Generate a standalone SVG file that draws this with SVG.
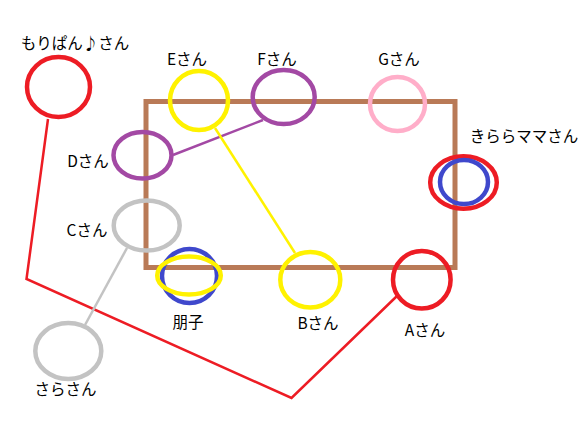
<svg xmlns="http://www.w3.org/2000/svg" width="588" height="421" viewBox="0 0 588 421">
<style>
.lbl{font-family:"Noto Sans CJK JP","Liberation Sans",sans-serif;font-size:15.5px;fill:#000;text-anchor:middle}
.ring{fill:none;stroke-width:4.5}
.red{stroke:#ed1c24}.yel{stroke:#fff200}.pur{stroke:#a349a4}.pink{stroke:#ffaec9}.gray{stroke:#c3c3c3}.blue{stroke:#3f48cc}
</style>
<rect x="0" y="0" width="588" height="421" fill="#fff"/>
<g id="frame"><rect x="146" y="101.5" width="309" height="166" fill="none" stroke="#b97a57" stroke-width="5"/></g>
<g id="connectors" fill="none">
<polyline points="48,119 26.5,279 291.5,398 397,296" stroke="#ed1c24" stroke-width="2.5"/>
<line x1="173" y1="155" x2="263" y2="120" stroke="#a349a4" stroke-width="2.5"/>
<line x1="215" y1="128" x2="295" y2="253" stroke="#fff200" stroke-width="2.5"/>
<line x1="127" y1="248" x2="85" y2="325" stroke="#c3c3c3" stroke-width="2.5"/>
</g>
<g id="morippan"><ellipse class="ring red" cx="58.5" cy="87" rx="31.5" ry="30"/><text class="lbl" x="75" y="49">もりぱん♪さん</text></g>
<g id="E"><ellipse class="ring yel" cx="199" cy="100.5" rx="29" ry="29.5"/><text class="lbl" x="187" y="65">Eさん</text></g>
<g id="F"><ellipse class="ring pur" cx="283.7" cy="97" rx="31" ry="27"/><text class="lbl" x="277" y="65">Fさん</text></g>
<g id="G"><ellipse class="ring pink" cx="397.5" cy="104" rx="27.5" ry="27"/><text class="lbl" x="399" y="65">Gさん</text></g>
<g id="D"><ellipse class="ring pur" cx="142.5" cy="155.3" rx="29" ry="23.3"/><text class="lbl" x="88" y="167">Dさん</text></g>
<g id="kirara"><ellipse class="ring red" cx="463.5" cy="182.5" rx="33.3" ry="26.3"/><ellipse class="ring blue" cx="464" cy="182" rx="24" ry="22"/><text class="lbl" x="524" y="142">きららママさん</text></g>
<g id="C"><ellipse class="ring gray" cx="146.7" cy="225.5" rx="33" ry="25"/><text class="lbl" x="87" y="236">Cさん</text></g>
<g id="tomoko"><ellipse class="ring blue" cx="189.5" cy="276" rx="27.5" ry="27"/><ellipse class="ring yel" cx="189" cy="275.5" rx="31.8" ry="19"/><text class="lbl" x="188" y="328">朋子</text></g>
<g id="B"><ellipse class="ring yel" cx="310.3" cy="279.7" rx="30" ry="27.7"/><text class="lbl" x="318" y="329">Bさん</text></g>
<g id="A"><ellipse class="ring red" cx="421.8" cy="279.8" rx="28.8" ry="28.8"/><text class="lbl" x="425" y="336">Aさん</text></g>
<g id="sara"><ellipse class="ring gray" cx="68.3" cy="351" rx="33" ry="28"/><text class="lbl" x="65.5" y="395">さらさん</text></g>
</svg>
